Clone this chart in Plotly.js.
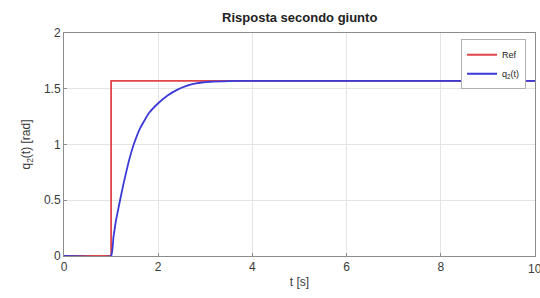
<!DOCTYPE html>
<html>
<head>
<meta charset="utf-8">
<script src="https://cdn.plot.ly/plotly-3.0.1.min.js"></script>
<style>html,body{margin:0;padding:0;background:#fff;}#chart{width:540px;height:298px;}</style>
</head>
<body>
<div id="chart"></div>
<script>
const refT = [0, 1, 1, 10];
const refV = [0, 0, 1.5708, 1.5708];
const qT = [0, 1, 1.05, 1.1, 1.17, 1.27, 1.37, 1.48, 1.62, 1.8, 2.0, 2.2, 2.4, 2.6, 2.8, 3.1, 3.5, 4, 5, 10];
const qV = [0, 0, 0.17, 0.31, 0.46, 0.66, 0.84, 1.0, 1.15, 1.28, 1.37, 1.44, 1.49, 1.525, 1.548, 1.563, 1.569, 1.5708, 1.5708, 1.5708];
const xTicks = [0, 2, 4, 6, 8, 10];
const xTickText = ['0', '2', '4', '6', '8', ''];
const lastXLabel = '10';
const yTicks = [0, 0.5, 1, 1.5, 2];
const yTickText = ['0', '0.5', '1', '1.5', '2'];

const FONT = 'Liberation Sans, Arial, sans-serif';
const traces = [
  {x: refT, y: refV, mode: 'lines', name: 'Ref', line: {color: '#e0454a', width: 1.8}},
  {x: qT, y: qV, mode: 'lines', name: 'q<sub>2</sub>(t)', line: {color: '#3a3ad8', width: 1.8, shape: 'spline', smoothing: 0.3}}
];
const axisCommon = {
  showline: true, linecolor: '#8c8c8c', linewidth: 1, mirror: true,
  showgrid: true, gridcolor: '#e4e4e4', gridwidth: 1,
  zeroline: false, ticks: 'inside', ticklen: 3, tickcolor: '#8c8c8c',
  tickfont: {family: FONT, size: 12, color: '#3a3a3a'}
};
const layout = {
  width: 540, height: 298,
  margin: {l: 64, r: 5, t: 33, b: 42},
  paper_bgcolor: '#ffffff', plot_bgcolor: '#ffffff',
  title: {text: '<b>Risposta secondo giunto</b>', x: 0.555, xanchor: 'center', y: 0.94, yanchor: 'middle',
          font: {family: FONT, size: 13, color: '#222'}},
  xaxis: Object.assign({}, axisCommon, {range: [0, 10], tickvals: xTicks, ticktext: xTickText,
          title: {text: 't [s]', standoff: 4, font: {family: FONT, size: 12, color: '#3a3a3a'}}}),
  yaxis: Object.assign({}, axisCommon, {range: [0, 2], tickvals: yTicks, ticktext: yTickText,
          title: {text: 'q<sub>2</sub>(t) [rad]', standoff: 10, font: {family: FONT, size: 12, color: '#3a3a3a'}}}),
  annotations: [{x: 10, xref: 'x', y: 0, yref: 'paper', yshift: -4, text: lastXLabel, showarrow: false,
                 xanchor: 'center', yanchor: 'top', font: {family: FONT, size: 12, color: '#3a3a3a'}}],
  showlegend: true,
  legend: {x: 0.981, y: 0.972, xanchor: 'right', yanchor: 'top', bgcolor: '#ffffff',
           bordercolor: '#b0b0b0', borderwidth: 1, tracegroupgap: 0, itemwidth: 30,
           font: {family: FONT, size: 9, color: '#222'}}
};
Plotly.newPlot('chart', traces, layout, {displayModeBar: false, staticPlot: true});
</script>
</body>
</html>
